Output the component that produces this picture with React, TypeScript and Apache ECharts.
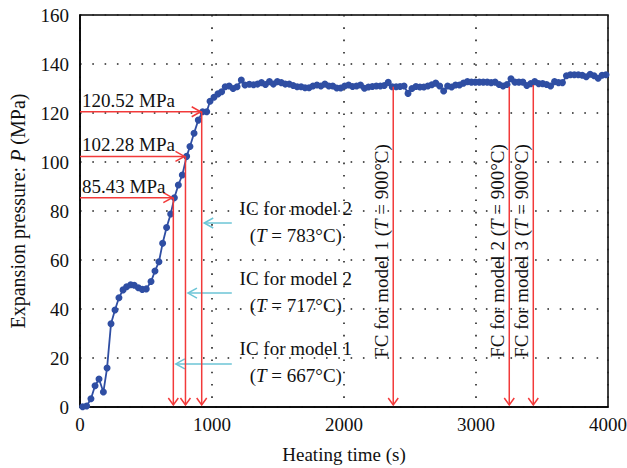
import React, { useEffect, useRef } from "react";
import * as echarts from "echarts";

const FONT = '"Liberation Serif", "Times New Roman", serif';
const FS = 19;

// Heating time (s)
const times = [
  20, 50, 83, 114, 144, 177, 205, 235, 265, 295, 326, 353, 384, 411, 442, 472, 502, 538, 568, 598,
  626, 656, 687, 715, 745, 775, 808, 833, 864, 896, 929, 960, 985, 1015, 1045, 1073, 1100, 1130, 1160, 1190,
  1222, 1250, 1283, 1315, 1345, 1375, 1405, 1435, 1465, 1495, 1525, 1555, 1585, 1615, 1645, 1675, 1705, 1735,
  1765, 1795, 1825, 1855, 1885, 1915, 1945, 1975, 2005, 2035, 2065, 2095, 2125, 2155, 2185, 2215, 2245, 2275,
  2305, 2335, 2365, 2395, 2425, 2455, 2485, 2515, 2545, 2575, 2605, 2635, 2665, 2695, 2725, 2755, 2785, 2815,
  2845, 2875, 2905, 2935, 2965, 2995, 3025, 3055, 3085, 3115, 3145, 3175, 3205, 3235, 3265, 3295, 3325, 3355,
  3385, 3415, 3445, 3475, 3505, 3535, 3565, 3595, 3625, 3655, 3685, 3715, 3745, 3775, 3805, 3835, 3865, 3895,
  3925, 3955, 3985,
];

// Expansion pressure (MPa)
const pressures = [
  0.1, 0.4, 3.4, 8.7, 11.4, 6.1, 15.9, 34.0, 39.6, 44.6, 47.8, 49.1, 49.9, 49.7, 48.7, 48.0, 48.2, 51.2, 55.5, 59.3,
  66.8, 73.3, 78.8, 85.4, 90.6, 94.7, 102.3, 106.3, 111.7, 117.1, 120.5, 120.5, 124.8, 126.4, 127.8, 128.7, 130.7, 131.0, 130.0, 130.7,
  133.5, 131.4, 131.7, 131.5, 131.8, 132.4, 131.6, 132.8, 131.8, 132.8, 132.4, 131.8, 131.8, 131.2, 130.7, 130.7, 130.3, 130.3,
  131.0, 131.4, 131.0, 131.8, 131.0, 131.0, 130.2, 130.2, 131.0, 131.4, 130.8, 131.0, 131.4, 130.1, 130.6, 130.8, 131.0, 131.0,
  131.2, 132.5, 130.7, 130.7, 130.8, 131.0, 128.0, 130.0, 130.8, 130.6, 130.6, 131.0, 131.5, 132.2, 131.0, 129.0, 131.0, 130.6,
  131.4, 131.4, 132.2, 132.8, 132.6, 132.6, 132.6, 132.6, 132.6, 132.4, 132.6, 131.6, 131.0, 131.6, 134.0, 132.6, 132.6, 132.6,
  131.2, 132.0, 132.8, 132.0, 132.0, 131.6, 131.0, 132.8, 132.4, 132.4, 135.2, 135.6, 135.6, 135.6, 135.4, 134.8, 135.8, 135.2,
  134.2, 135.4, 135.6,
];

const xTicks = [0, 1000, 2000, 3000, 4000];
const yTicks = [0, 20, 40, 60, 80, 100, 120, 140, 160];

// Initial cracking (IC) annotations
const icTimes = [707, 799, 922];
const icPressures = [85.43, 102.28, 120.52];
const icPressureLabels = ["85.43 MPa", "102.28 MPa", "120.52 MPa"];
const icModels = ["IC for model 1", "IC for model 2", "IC for model 2"];
const icTemps = ["667", "717", "783"];
const icNoteLevels = [17.6, 46.5, 75.1];
const icNoteTailTime = 1150;

// Final cracking (FC) annotations
const fcTimes = [2373, 3252, 3434];
const fcStartPressures = [130.7, 130.7, 131.4];
const fcModels = ["1", "2", "3"];
const fcTemp = "900";
const fcLabelLevel = 63.7;

const RED = "#f23a3a";
const CYAN = "#6cc5d6";
const BLUE = "#2f4ea3";

function chevron(tip: number[], dir: "left" | "right" | "down", color: string, len = 8, half = 5) {
  let pts: number[][];
  if (dir === "right") pts = [[tip[0] - len, tip[1] - half], tip, [tip[0] - len, tip[1] + half]];
  else if (dir === "left") pts = [[tip[0] + len, tip[1] - half], tip, [tip[0] + len, tip[1] + half]];
  else pts = [[tip[0] - half, tip[1] - len], tip, [tip[0] + half, tip[1] - len]];
  return { type: "polyline", shape: { points: pts }, style: { stroke: color, lineWidth: 1.5, fill: "none" } };
}

const rich = {
  n: { fontFamily: FONT, fontSize: FS, fill: "#111" },
  i: { fontFamily: FONT, fontSize: FS, fontStyle: "italic", fill: "#111" },
};
const richTitle = {
  n: { fontFamily: FONT, fontSize: 20, fill: "#111" },
  i: { fontFamily: FONT, fontSize: 20, fontStyle: "italic", fill: "#111" },
};

export default function App() {
  const ref = useRef<HTMLDivElement>(null);
  useEffect(() => {
    if (!ref.current) return;
    const chart = echarts.init(ref.current, null, { renderer: "svg" });
    const lineData = times.map((t, i) => [t, pressures[i]]);
    const icData = icTimes.map((t, i) => [t, icPressures[i], icNoteLevels[i], i]);
    const fcData = fcTimes.map((t, i) => [t, fcStartPressures[i], i]);

    chart.setOption({
      animation: false,
      textStyle: { fontFamily: FONT },
      grid: {
        left: 80,
        right: 19,
        top: 15,
        bottom: 61,
        show: true,
        borderColor: "#000",
        borderWidth: 1.5,
        containLabel: false,
        outerBoundsMode: "none",
      },
      xAxis: {
        type: "value",
        min: xTicks[0],
        max: xTicks[xTicks.length - 1],
        interval: 1000,
        name: "Heating time (s)",
        nameLocation: "middle",
        nameGap: 38,
        nameTextStyle: { fontFamily: FONT, fontSize: FS, color: "#111" },
        axisLine: { lineStyle: { color: "#000", width: 1.5 } },
        axisTick: { show: false },
        axisLabel: { fontFamily: FONT, fontSize: FS, color: "#111", margin: 8, formatter: (v: number) => String(v) },
        splitLine: { show: true, lineStyle: { color: "#222", type: [1.6, 10.7], width: 1.6 } },
      },
      yAxis: {
        type: "value",
        min: yTicks[0],
        max: yTicks[yTicks.length - 1],
        interval: 20,
        name: "{n|Expansion pressure: }{i|P}{n| (MPa)}",
        nameLocation: "middle",
        nameGap: 52,
        nameTextStyle: { fontFamily: FONT, fontSize: 20, color: "#111", rich: richTitle },
        axisLine: { lineStyle: { color: "#000", width: 1.5 } },
        axisTick: { show: false },
        axisLabel: { fontFamily: FONT, fontSize: FS, color: "#111", margin: 11, formatter: (v: number) => String(v) },
        splitLine: { show: true, lineStyle: { color: "#222", type: [1.6, 10.7], width: 1.6 } },
      },
      series: [
        {
          type: "line",
          data: lineData,
          symbol: "circle",
          symbolSize: 7,
          showSymbol: true,
          lineStyle: { color: BLUE, width: 1.8 },
          itemStyle: { color: BLUE },
          z: 3,
        },
        {
          type: "custom",
          silent: true,
          z: 4,
          data: icData,
          renderItem: (params: any, api: any) => {
            const t = api.value(0);
            const p = api.value(1);
            const noteLevel = api.value(2);
            const i = api.value(3);
            const pt = api.coord([t, p]);
            const p0 = api.coord([0, p]);
            const pb = api.coord([t, 0]);
            const noteHead = api.coord([t, noteLevel]);
            const noteTail = api.coord([icNoteTailTime, noteLevel]);
            const headX = noteHead[0] + 2.5;
            const textX = noteTail[0] + 64;
            return {
              type: "group",
              children: [
                { type: "line", shape: { x1: p0[0], y1: pt[1], x2: pt[0], y2: pt[1] }, style: { stroke: RED, lineWidth: 1.5 } },
                chevron([pt[0] - 1, pt[1]], "right", RED, 9, 5),
                { type: "line", shape: { x1: pt[0], y1: pt[1], x2: pb[0], y2: pb[1] - 2 }, style: { stroke: RED, lineWidth: 1.5 } },
                chevron([pb[0], pb[1] - 2], "down", RED, 7, 5),
                {
                  type: "text",
                  style: {
                    text: icPressureLabels[i],
                    x: p0[0] + 2,
                    y: pt[1] - 2,
                    align: "left",
                    verticalAlign: "bottom",
                    fontFamily: FONT,
                    fontSize: FS,
                    fill: "#111",
                  },
                },
                { type: "line", shape: { x1: noteTail[0], y1: noteTail[1], x2: headX, y2: noteHead[1] }, style: { stroke: CYAN, lineWidth: 1.5 } },
                chevron([headX, noteHead[1]], "left", CYAN, 9, 5),
                {
                  type: "text",
                  style: {
                    text: icModels[i],
                    x: textX,
                    y: noteHead[1] - 15,
                    align: "center",
                    verticalAlign: "middle",
                    fontFamily: FONT,
                    fontSize: FS,
                    fill: "#111",
                  },
                },
                {
                  type: "text",
                  style: {
                    text: "{n|(}{i|T}{n| = " + icTemps[i] + "°C)}",
                    x: textX,
                    y: noteHead[1] + 12,
                    align: "center",
                    verticalAlign: "middle",
                    rich,
                  },
                },
              ],
            };
          },
        },
        {
          type: "custom",
          silent: true,
          z: 4,
          data: fcData,
          renderItem: (params: any, api: any) => {
            const t = api.value(0);
            const p = api.value(1);
            const i = api.value(2);
            const top = api.coord([t, p]);
            const bottom = api.coord([t, 0]);
            const label = api.coord([t, fcLabelLevel]);
            return {
              type: "group",
              children: [
                { type: "line", shape: { x1: top[0], y1: top[1], x2: bottom[0], y2: bottom[1] - 2 }, style: { stroke: RED, lineWidth: 1.5 } },
                chevron([bottom[0], bottom[1] - 2], "down", RED, 7, 5),
                {
                  type: "text",
                  x: label[0] - 12,
                  y: label[1],
                  rotation: Math.PI / 2,
                  style: {
                    text: "{n|FC for model " + fcModels[i] + " (}{i|T}{n| = " + fcTemp + "°C)}",
                    x: 0,
                    y: 0,
                    align: "center",
                    verticalAlign: "middle",
                    rich,
                  },
                },
              ],
            };
          },
        },
      ],
    });
    return () => chart.dispose();
  }, []);
  return <div ref={ref} style={{ width: 627, height: 468, position: "absolute", left: 0, top: 0 }} />;
}
